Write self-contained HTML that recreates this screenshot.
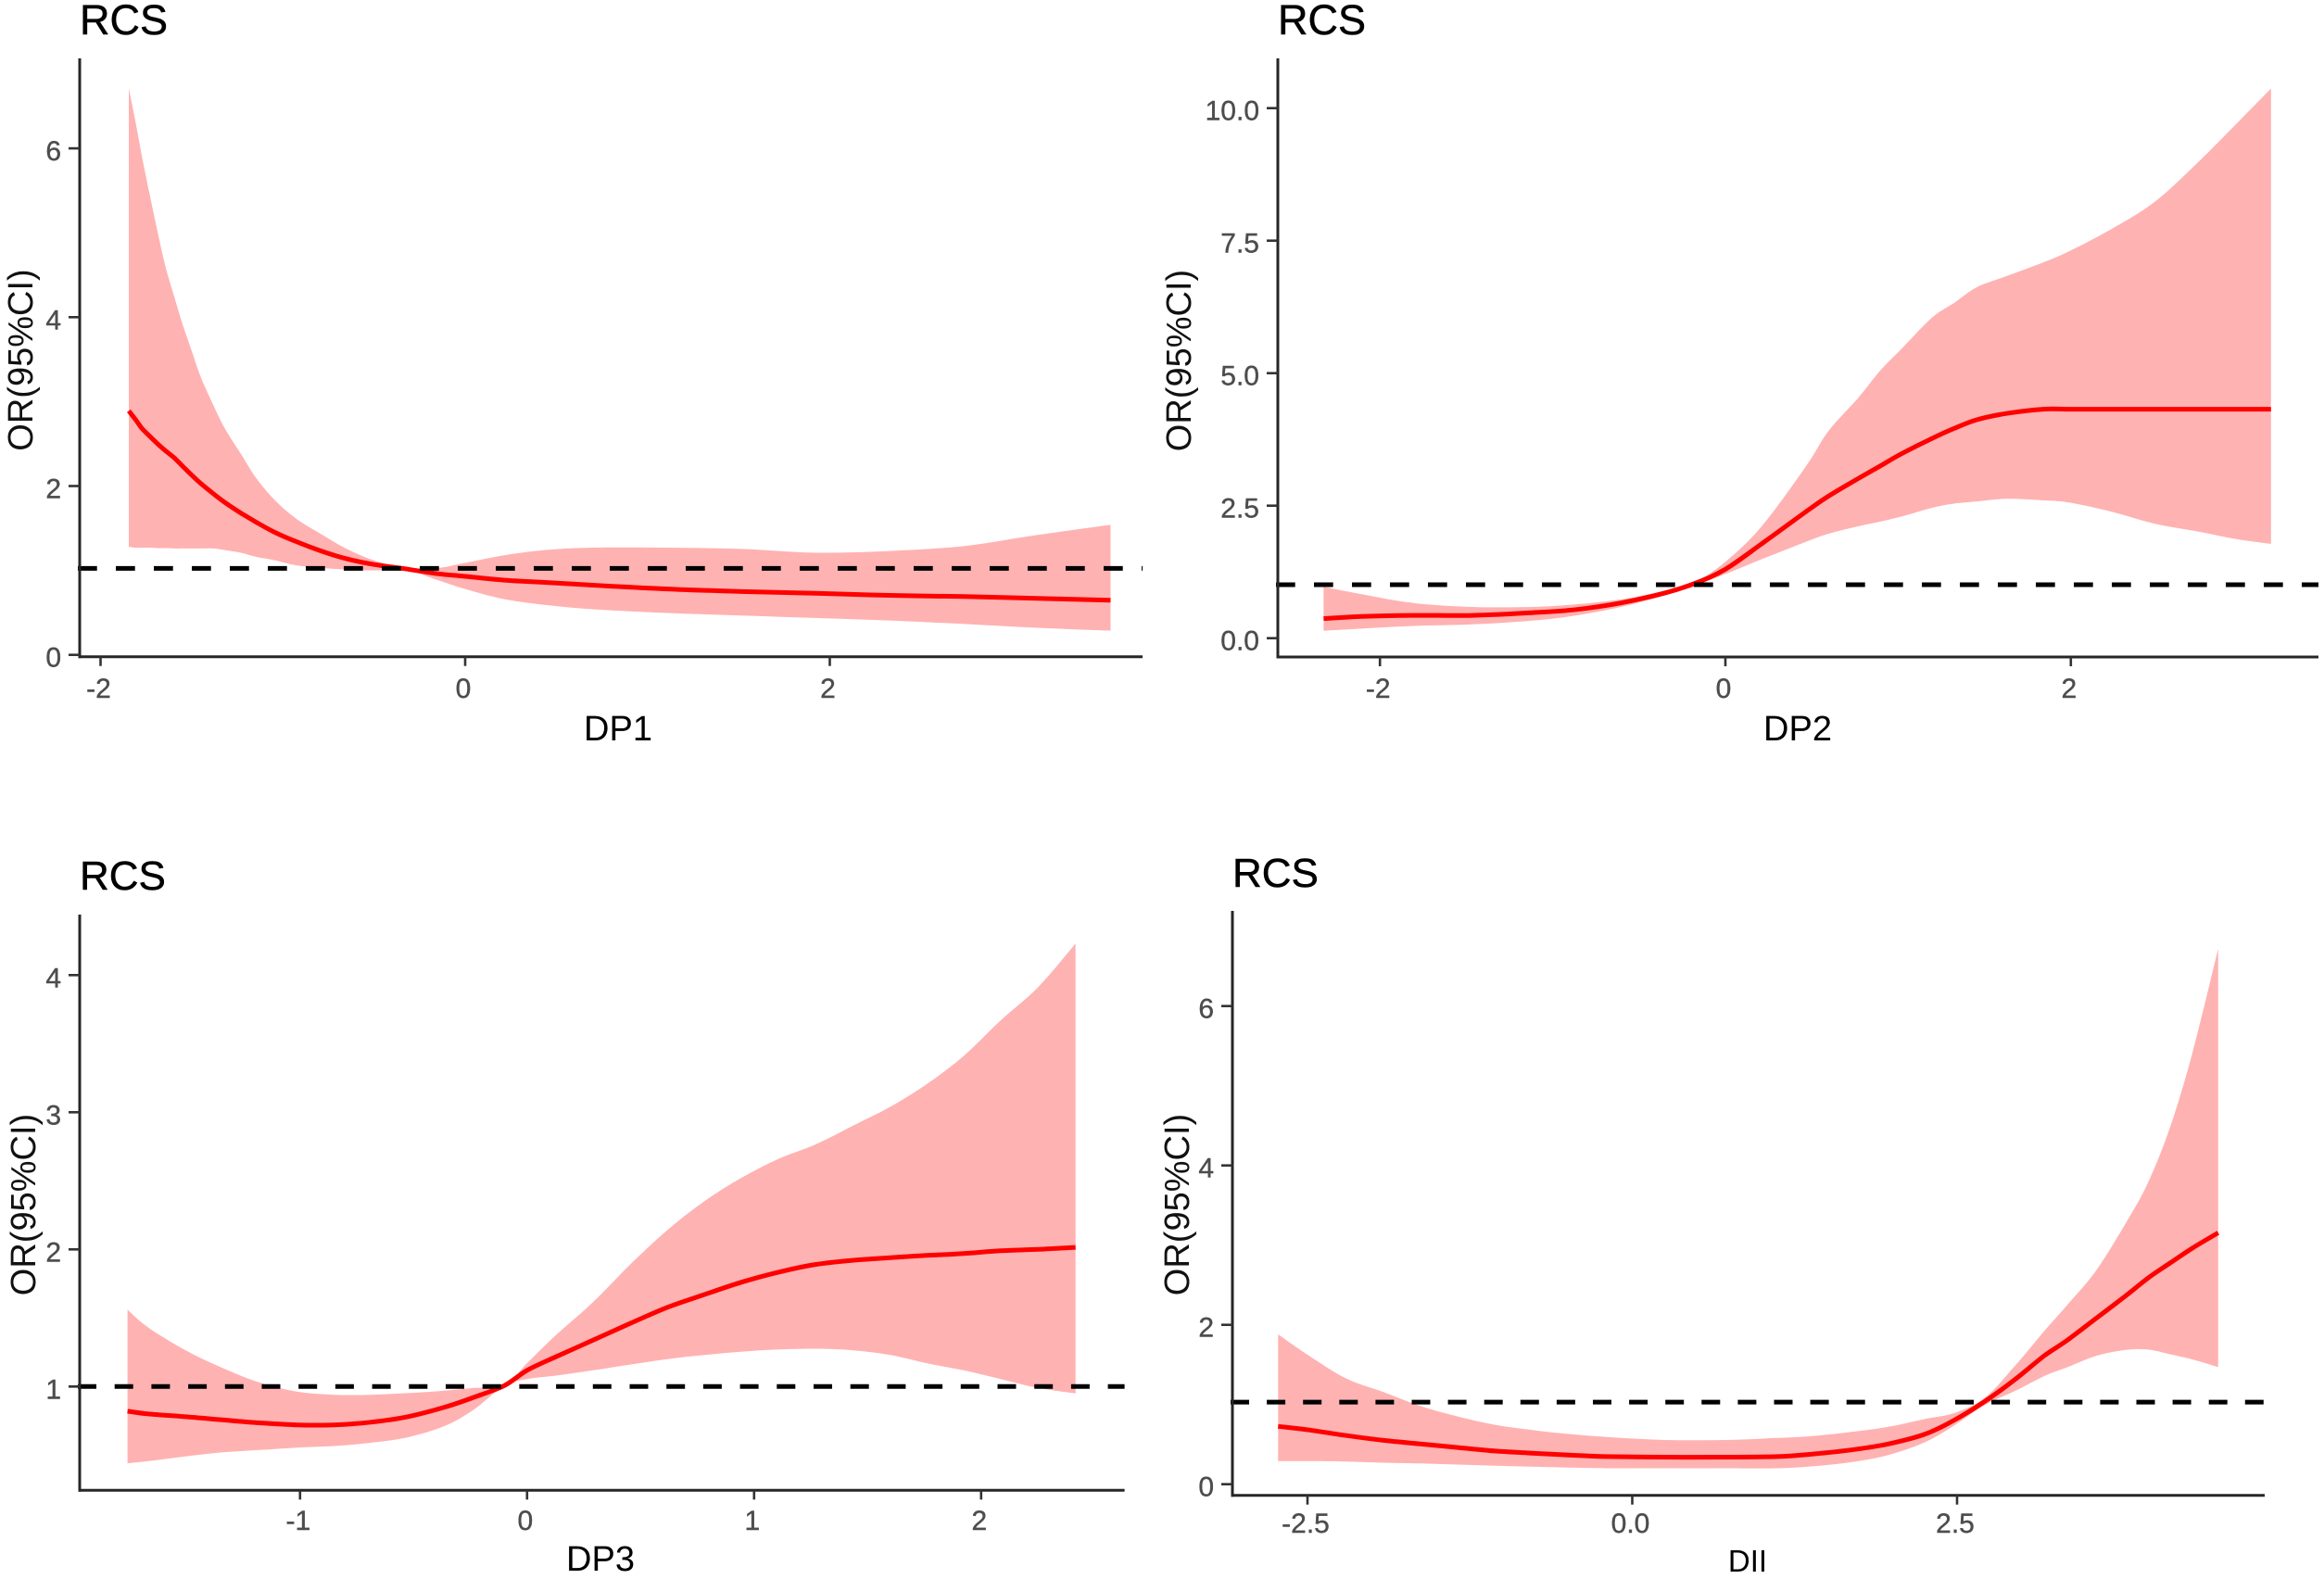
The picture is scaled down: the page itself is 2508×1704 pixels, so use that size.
<!DOCTYPE html>
<html lang="en">
<head>
<meta charset="utf-8">
<title>RCS panels</title>
<style>
html,body{margin:0;padding:0;background:#fff;}
svg{display:block;font-family:"Liberation Sans",Arial,sans-serif;}
</style>
</head>
<body>
<svg id="chart" xmlns="http://www.w3.org/2000/svg" width="2508" height="1704" viewBox="0 0 2508 1704"></svg>
<script>
// ---------- DP1 ----------
const dp1X   = [-1.845,-1.806,-1.772,-1.73,-1.687,-1.645,-1.594,-1.552,-1.50,-1.45,-1.382,-1.315,-1.23,-1.145,-1.043,-0.925,-0.79,-0.654,-0.5,-0.33,-0.15,0,0.215,0.46,0.70,1.11,1.516,1.92,2.33,2.74,3.14,3.54];
const dp1Mid = [2.89,2.78,2.68,2.59,2.50,2.42,2.33,2.24,2.13,2.03,1.91,1.80,1.68,1.57,1.45,1.34,1.23,1.14,1.07,1.02,0.96,0.93,0.885,0.855,0.825,0.78,0.75,0.73,0.705,0.69,0.67,0.646];
const dp1Lo  = [1.28,1.27,1.27,1.27,1.265,1.265,1.26,1.26,1.26,1.26,1.26,1.24,1.21,1.16,1.12,1.06,1.03,1.01,1.0,1.01,0.885,0.78,0.66,0.586,0.54,0.496,0.466,0.437,0.407,0.365,0.32,0.287];
const dp1Hi  = [6.71,6.29,5.89,5.45,5.01,4.61,4.23,3.93,3.6,3.29,2.96,2.67,2.38,2.09,1.83,1.61,1.43,1.26,1.12,1.03,1.03,1.09,1.18,1.245,1.27,1.27,1.255,1.21,1.23,1.29,1.42,1.54];
const dp1XTicks = [-2,0,2];
const dp1XLabels = ['-2','0','2'];
const dp1YTicks = [0,2,4,6];
const dp1YLabels = ['0','2','4','6'];
const dp1Ref = 1.025;

// ---------- DP2 ----------
const dp2X   = [-2.326,-2.107,-1.807,-1.464,-1.12,-0.863,-0.605,-0.348,-0.176,0,0.21,0.468,0.597,0.768,0.897,1.026,1.197,1.326,1.455,1.627,1.84,1.99,2.23,2.485,2.74,2.957,3.159];
const dp2Mid = [0.37,0.41,0.43,0.43,0.48,0.54,0.665,0.855,1.035,1.30,1.78,2.39,2.68,3.01,3.25,3.49,3.77,3.96,4.12,4.24,4.32,4.32,4.32,4.32,4.32,4.32,4.32];
const dp2Lo  = [0.14,0.18,0.23,0.26,0.33,0.43,0.59,0.81,1.0,1.21,1.49,1.82,1.97,2.11,2.2,2.3,2.46,2.54,2.58,2.63,2.6,2.56,2.39,2.16,2.01,1.87,1.78];
const dp2Hi  = [0.97,0.83,0.665,0.59,0.59,0.64,0.73,0.90,1.06,1.44,2.11,3.25,3.91,4.53,5.05,5.48,6.05,6.33,6.62,6.83,7.09,7.30,7.71,8.23,8.99,9.7,10.37];
const dp2XTicks = [-2,0,2];
const dp2XLabels = ['-2','0','2'];
const dp2YTicks = [0,2.5,5,7.5,10];
const dp2YLabels = ['0.0','2.5','5.0','7.5','10.0'];
const dp2Ref = 1.009;

// ---------- DP3 ----------
const dp3X   = [-1.76,-1.668,-1.505,-1.342,-1.18,-1.015,-0.852,-0.689,-0.526,-0.362,-0.232,-0.10,0,0.127,0.29,0.454,0.617,0.78,0.943,1.107,1.27,1.433,1.6,1.76,1.923,2.086,2.25,2.416];
const dp3Mid = [0.82,0.80,0.78,0.757,0.735,0.72,0.72,0.74,0.78,0.85,0.923,1.007,1.118,1.217,1.338,1.46,1.577,1.67,1.76,1.834,1.89,1.92,1.94,1.956,1.97,1.99,2.0,2.015];
const dp3Lo  = [0.44,0.456,0.49,0.52,0.537,0.555,0.566,0.59,0.63,0.713,0.835,1.007,1.055,1.08,1.118,1.16,1.2,1.23,1.254,1.27,1.276,1.265,1.23,1.17,1.118,1.055,0.99,0.95];
const dp3Hi  = [1.56,1.43,1.265,1.136,1.03,0.963,0.94,0.94,0.952,0.97,0.99,1.007,1.17,1.375,1.614,1.89,2.14,2.35,2.52,2.66,2.765,2.90,3.04,3.205,3.41,3.67,3.91,4.23];
const dp3XTicks = [-1,0,1,2];
const dp3XLabels = ['-1','0','1','2'];
const dp3YTicks = [1,2,3,4];
const dp3YLabels = ['1','2','3','4'];
const dp3Ref = 1.0;

// ---------- DII ----------
const diiX   = [-2.726,-2.486,-2.2,-1.914,-1.63,-1.343,-1.057,-0.771,-0.486,-0.2,0.257,0.714,1.114,1.4,1.686,1.97,2.257,2.486,2.714,2.943,3.17,3.343,3.57,3.8,3.97,4.14,4.314,4.51];
const diiMid = [0.726,0.68,0.61,0.55,0.505,0.46,0.416,0.39,0.366,0.347,0.34,0.34,0.347,0.38,0.43,0.505,0.63,0.81,1.04,1.31,1.61,1.8,2.08,2.366,2.587,2.776,2.965,3.155];
const diiLo  = [0.29,0.29,0.284,0.27,0.26,0.246,0.233,0.22,0.208,0.2,0.2,0.2,0.2,0.227,0.277,0.366,0.53,0.745,0.995,1.167,1.356,1.464,1.61,1.685,1.69,1.63,1.565,1.47];
const diiHi  = [1.88,1.61,1.325,1.155,0.98,0.85,0.745,0.68,0.63,0.593,0.555,0.555,0.58,0.606,0.656,0.72,0.82,0.896,1.085,1.48,1.92,2.24,2.68,3.28,3.785,4.48,5.426,6.72];
const diiXTicks = [-2.5,0,2.5];
const diiXLabels = ['-2.5','0.0','2.5'];
const diiYTicks = [0,2,4,6];
const diiYLabels = ['0','2','4','6'];
const diiRef = 1.03;

const svg = document.getElementById('chart');
const NS = 'http://www.w3.org/2000/svg';

function make(tag, attrs, text) {
  const el = document.createElementNS(NS, tag);
  for (const k in attrs) el.setAttribute(k, attrs[k]);
  if (text !== undefined) el.textContent = text;
  svg.appendChild(el);
  return el;
}

// Smooth path through data points (Catmull-Rom to Bezier)
function smooth(pts, move) {
  let d = (move ? 'M' : 'L') + pts[0][0].toFixed(1) + ' ' + pts[0][1].toFixed(1);
  for (let i = 0; i < pts.length - 1; i++) {
    const p0 = pts[Math.max(i - 1, 0)], p1 = pts[i], p2 = pts[i + 1], p3 = pts[Math.min(i + 2, pts.length - 1)];
    const c1x = p1[0] + (p2[0] - p0[0]) / 6, c1y = p1[1] + (p2[1] - p0[1]) / 6;
    const c2x = p2[0] - (p3[0] - p1[0]) / 6, c2y = p2[1] - (p3[1] - p1[1]) / 6;
    d += 'C' + c1x.toFixed(1) + ' ' + c1y.toFixed(1) + ' ' + c2x.toFixed(1) + ' ' + c2y.toFixed(1) + ' ' + p2[0].toFixed(1) + ' ' + p2[1].toFixed(1);
  }
  return d;
}

function drawPanel(p) {
  const sx = v => p.x0 + p.xUnit * v;
  const sy = v => p.y0 - p.yUnit * v;

  // title
  const title = make('text', {x: p.left, y: p.titleY, 'font-size': p.titleSize, fill: '#000', stroke: '#000', 'stroke-width': 0.5}, 'RCS');
  
  

  // CI band
  const upper = p.xs.map((x, i) => [sx(x), sy(p.hi[i])]);
  const lower = p.xs.map((x, i) => [sx(x), sy(p.lo[i])]).reverse();
  const band = make('path', {d: smooth(upper, true) + smooth(lower, false) + 'Z', fill: '#ffb2b2', stroke: 'none'});
  
  

  // fitted line
  const line = make('path', {d: smooth(p.xs.map((x, i) => [sx(x), sy(p.mid[i])]), true), fill: 'none', stroke: '#ff0000', 'stroke-width': 5});
  
  

  // reference line
  const ref = make('line', {x1: p.left - 2, x2: p.right, y1: sy(p.ref), y2: sy(p.ref), stroke: '#000', 'stroke-width': 5, 'stroke-dasharray': p.dash});
  
  

  // axes
  const yAxis = make('line', {x1: p.left, x2: p.left, y1: p.top, y2: p.bottom + 1.5, stroke: '#262626', 'stroke-width': 3});
  
  
  const xAxis = make('line', {x1: p.left - 1.5, x2: p.right, y1: p.bottom, y2: p.bottom, stroke: '#262626', 'stroke-width': 3});
  
  

  // x ticks
  p.xTicks.forEach((t, i) => {
    const tick = make('line', {x1: sx(t), x2: sx(t), y1: p.bottom, y2: p.bottom + 10, stroke: '#333', 'stroke-width': 2.6});
    
    
    const lab = make('text', {x: sx(t) - 2, y: p.xTickY, 'font-size': 30, fill: '#4d4d4d', stroke: '#4d4d4d', 'stroke-width': 0.4, 'text-anchor': 'middle'}, p.xLabels[i]);
    
    
  });

  // y ticks
  p.yTicks.forEach((t, i) => {
    const tick = make('line', {x1: p.left - 12, x2: p.left, y1: sy(t), y2: sy(t), stroke: '#333', 'stroke-width': 2.6});
    
    
    const lab = make('text', {x: p.left - 20, y: sy(t) + 13, 'font-size': 30, fill: '#4d4d4d', stroke: '#4d4d4d', 'stroke-width': 0.4, 'text-anchor': 'end'}, p.yLabels[i]);
    
    
  });

  // axis titles
  const xt = make('text', {x: p.xTitleX, y: p.xTitleY, 'font-size': p.xTitleSize, fill: '#000', 'text-anchor': 'middle'}, p.xTitle);
  
  
  const yt = make('text', {x: 0, y: 0, transform: 'translate(' + p.yTitleX + ' ' + p.yTitleY + ') rotate(-90)', 'font-size': 38, fill: '#111', 'text-anchor': 'middle'}, 'OR(95%CI)');
  
  
}

drawPanel({key: 'dp1', xs: dp1X, mid: dp1Mid, lo: dp1Lo, hi: dp1Hi, ref: dp1Ref,
  xTicks: dp1XTicks, xLabels: dp1XLabels, yTicks: dp1YTicks, yLabels: dp1YLabels,
  x0: 502, xUnit: 196.75, y0: 706.7, yUnit: 91.1,
  left: 86, right: 1233, top: 63, bottom: 708.7, dash: '20.7 20.3',
  titleY: 37, titleSize: 45, xTickY: 753, xTitle: 'DP1', xTitleX: 667, xTitleY: 799, xTitleSize: 38, yTitleX: 35, yTitleY: 388.5});

drawPanel({key: 'dp2', xs: dp2X, mid: dp2Mid, lo: dp2Lo, hi: dp2Hi, ref: dp2Ref,
  xTicks: dp2XTicks, xLabels: dp2XLabels, yTicks: dp2YTicks, yLabels: dp2YLabels,
  x0: 1862, xUnit: 186.4, y0: 688.7, yUnit: 57.2,
  left: 1379, right: 2502, top: 63, bottom: 709, dash: '20.7 20.3',
  titleY: 37, titleSize: 45, xTickY: 753, xTitle: 'DP2', xTitleX: 1940, xTitleY: 799, xTitleSize: 38, yTitleX: 1285, yTitleY: 389});

drawPanel({key: 'dp3', xs: dp3X, mid: dp3Mid, lo: dp3Lo, hi: dp3Hi, ref: dp3Ref,
  xTicks: dp3XTicks, xLabels: dp3XLabels, yTicks: dp3YTicks, yLabels: dp3YLabels,
  x0: 568.8, xUnit: 245, y0: 1644.3, yUnit: 148,
  left: 86, right: 1213.6, top: 987, bottom: 1608.3, dash: '20 19.7',
  titleY: 960, titleSize: 44, xTickY: 1651, xTitle: 'DP3', xTitleX: 648, xTitleY: 1695, xTitleSize: 38, yTitleX: 38, yTitleY: 1300});

drawPanel({key: 'dii', xs: diiX, mid: diiMid, lo: diiLo, hi: diiHi, ref: diiRef,
  xTicks: diiXTicks, xLabels: diiXLabels, yTicks: diiYTicks, yLabels: diiYLabels,
  x0: 1761.5, xUnit: 140.2, y0: 1601.7, yUnit: 86,
  left: 1330, right: 2444, top: 983, bottom: 1613.7, dash: '20 19.1',
  titleY: 957, titleSize: 44, xTickY: 1654, xTitle: 'DII', xTitleX: 1886, xTitleY: 1696, xTitleSize: 33, yTitleX: 1283, yTitleY: 1300});
</script>
</body>
</html>
